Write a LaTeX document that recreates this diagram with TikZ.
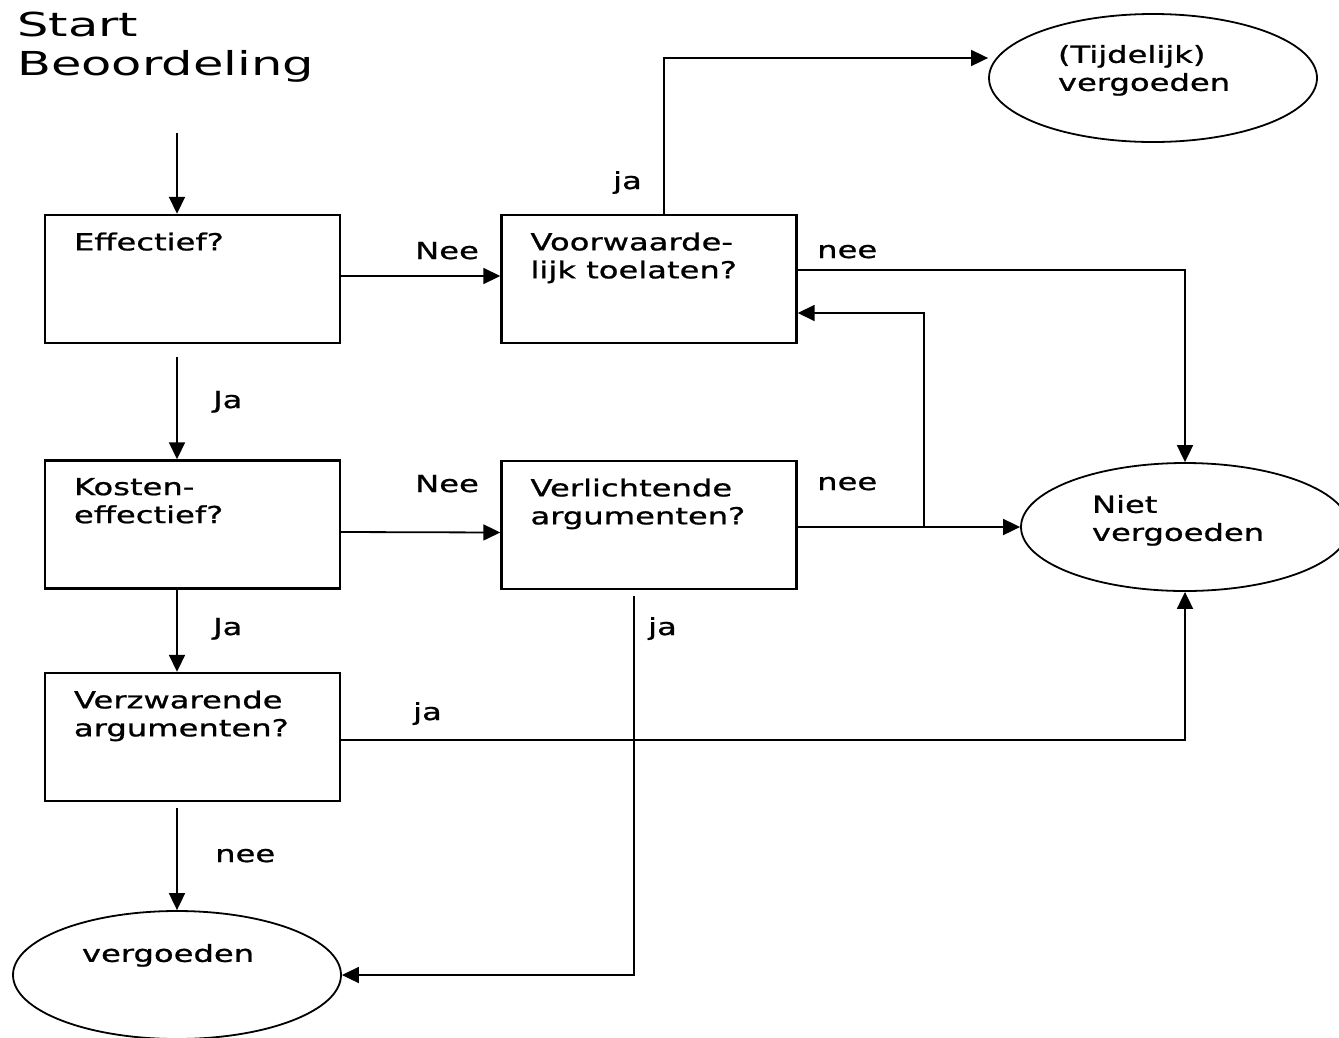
\documentclass[tikz,border=0pt]{standalone}
\usepackage{fontspec}
\setmainfont{DejaVu Sans}[FakeStretch=1.37,FakeBold=0.9]
\newfontfamily\titlefont{DejaVu Sans}[FakeStretch=1.5]
\usetikzlibrary{arrows.meta,shapes.geometric}
\newcommand{\boxfont}{\fontsize{23.5pt}{28pt}\selectfont}
\newcommand{\boxtxt}[1]{\parbox[c][93pt][t]{237pt}{\raggedright #1}}
\newcommand{\elltxt}[3]{\parbox[c][#1][t]{#2}{\raggedright #3}}
\begin{document}
\begin{tikzpicture}[x=1pt,y=1pt,
  arr/.style={-{Triangle[length=17pt,width=16pt]}, line width=1.8pt},
  qbox/.style={draw, line width=2.4pt, inner sep=0pt, minimum width=295pt, minimum height=128pt, font=\boxfont},
  oval/.style={draw, ellipse, line width=1.8pt, inner sep=0pt, minimum width=328pt, minimum height=128pt, font=\boxfont},
  lab/.style={anchor=base west, inner sep=0pt, font=\boxfont}]
\useasboundingbox (0,0) rectangle (1339,-1037);

\node[anchor=north west, inner sep=0pt, align=left, font=\titlefont\fontsize{33pt}{39pt}\selectfont] (title) at (17,-12) {Start\\Beoordeling};

\node[qbox] (eff) at (192.5,-279) {\boxtxt{Effectief?}};
\node[qbox] (voor) at (649,-279) {\boxtxt{Voorwaarde-\\lijk toelaten?}};
\node[qbox] (kos) at (192.5,-524.5) {\boxtxt{Kosten-\\effectief?}};
\node[qbox] (verl) at (649,-525) {\boxtxt{Verlichtende\\argumenten?}};
\node[qbox] (verz) at (192.5,-737) {\boxtxt{Verzwarende\\argumenten?}};

\node[oval] (tijd) at (1153,-78) {\elltxt{66pt}{190pt}{(Tijdelijk)\\vergoeden}};
\node[oval] (niet) at (1185,-527) {\elltxt{64pt}{186pt}{Niet\\vergoeden}};
\node[oval] (verg) at (177,-975) {\elltxt{62pt}{190pt}{vergoeden}};

\coordinate (s0) at (177,-133);
\draw[arr] (s0) -- (s0 |- eff.north);
\draw[arr] ([yshift=3pt]eff.east) -- ([yshift=3pt]voor.west);
\coordinate (a1) at (177,-357);
\draw[arr] (a1) -- (a1 |- kos.north);
\draw[arr] ([yshift=-7.5pt]kos.east) -- ([yshift=-7.5pt]verl.west);
\draw[arr] (kos.south -| a1) -- (verz.north -| a1);
\coordinate (a2) at (177,-808);
\draw[arr] (a2) -- (verg.north);
\draw[arr] ([yshift=-3pt]verz.east) -| (niet.south);
\draw[arr] ([xshift=15pt]voor.north) |- ([yshift=20pt]tijd.west);
\draw[arr] ([yshift=9pt]voor.east) -| (niet.north);
\draw[arr] ([yshift=-2pt]verl.east) -- (niet.west);
\coordinate (br) at (924,-527);
\draw[arr] (br) |- ([yshift=-34pt]voor.east);
\coordinate (j0) at (634,-596);
\draw[arr] (j0) |- (verg.east);

\node[lab] (l1) at (415,-259) {Nee};
\node[lab] (l2) at (213,-408) {Ja};
\node[lab] (l3) at (415,-492) {Nee};
\node[lab] (l4) at (213,-635) {Ja};
\node[lab] (l5) at (413,-720) {ja};
\node[lab] (l6) at (215,-862) {nee};
\node[lab] (l7) at (613,-189) {ja};
\node[lab] (l8) at (817,-258) {nee};
\node[lab] (l9) at (817,-490) {nee};
\node[lab] (l10) at (648,-635) {ja};
\end{tikzpicture}
\end{document}
